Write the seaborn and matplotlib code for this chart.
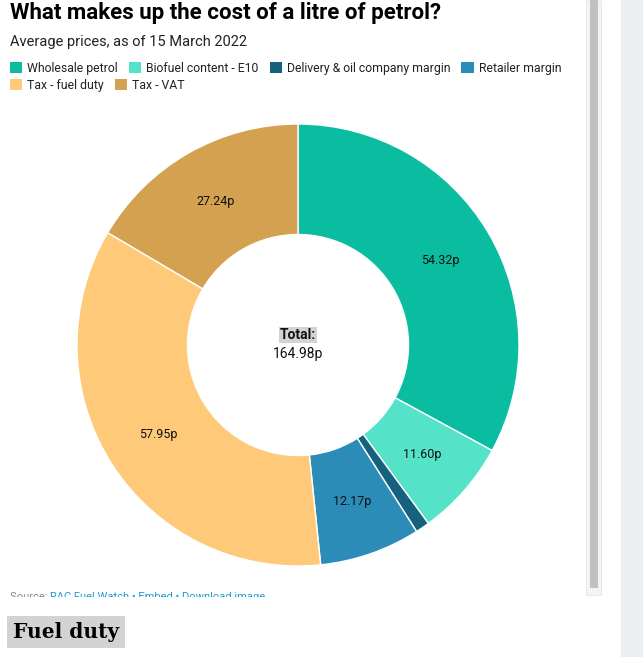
import numpy as np
import pandas as pd
import matplotlib
matplotlib.use("Agg")
import matplotlib.pyplot as plt
import seaborn as sns
from matplotlib.patches import Patch, Rectangle

# ---------------- data ----------------
categories = ["Wholesale petrol", "Biofuel content - E10",
              "Delivery & oil company margin", "Retailer margin",
              "Tax - fuel duty", "Tax - VAT"]
values = [54.32, 11.60, 1.70, 12.17, 57.95, 27.24]
show_label = [True, True, False, True, True, True]
colors = ["#0abda0", "#54e3c8", "#16617d", "#2b8cb8", "#fec979", "#d3a14f"]
total_label = "164.98p"
title = "What makes up the cost of a litre of petrol?"
subtitle = "Average prices, as of 15 March 2022"
heading = "Fuel duty"

df = pd.DataFrame({"category": categories, "value": values,
                   "show": show_label})

sns.set_theme(style="white")
plt.rcParams["font.family"] = ["Roboto", "DejaVu Sans"]
palette = sns.color_palette(colors)

W, H = 643, 657
fig = plt.figure(figsize=(W / 100, H / 100), dpi=100)
fig.patch.set_facecolor("white")

def fx(x):
    return x / W

def fy(y):
    return 1 - y / H

# right side grey panel and scrollbar
fig.patches.append(Rectangle((fx(621), 0), fx(W - 621), 1, transform=fig.transFigure,
                             facecolor="#ebeff0", edgecolor="none", zorder=0))
fig.patches.append(Rectangle((fx(586), fy(595)), fx(15), 595 / H, transform=fig.transFigure,
                             facecolor="#f4f4f4", edgecolor="#e6e6e6", linewidth=0.6, zorder=1))
fig.patches.append(Rectangle((fx(590), fy(588)), fx(8), 588 / H, transform=fig.transFigure,
                             facecolor="#c1c1c1", edgecolor="none", zorder=2))

# titles
fig.text(fx(10), fy(19), title, fontsize=16, fontweight="bold", color="#000000",
         ha="left", va="baseline")
fig.text(fx(10), fy(46), subtitle, fontsize=10.5, color="#222222",
         ha="left", va="baseline")

# legends
handles = [Patch(facecolor=c, edgecolor="none") for c in palette]
leg_kw = dict(loc="upper left", frameon=False, borderpad=0, borderaxespad=0,
              handlelength=1.0, handleheight=1.0, handletextpad=0.4,
              columnspacing=0.9, fontsize=8.85, labelcolor="#222222")
fig.legend(handles[:4], categories[:4], ncol=4,
           bbox_to_anchor=(fx(10), fy(62)), **leg_kw)
fig.legend(handles[4:], categories[4:], ncol=2,
           bbox_to_anchor=(fx(10), fy(79)), **leg_kw)

# donut
ax = fig.add_axes([fx(77), fy(566), 442 / W, 442 / H])
wedges, _ = ax.pie(df["value"], colors=palette, startangle=90, counterclock=False,
                   radius=1.0,
                   wedgeprops=dict(width=0.5, edgecolor="white", linewidth=1.0))
ax.set_xlim(-1, 1)
ax.set_ylim(-1, 1)
ax.set_aspect("equal")
ax.axis("off")

for w, v, s in zip(wedges, df["value"], df["show"]):
    if not s:
        continue
    ang = np.deg2rad((w.theta1 + w.theta2) / 2)
    r = 0.75
    ax.text(r * np.cos(ang), r * np.sin(ang), f"{v:.2f}p", ha="center", va="center",
            fontsize=9, color="#111111")

ax.text(0, 0.045, "Total:", ha="center", va="center", fontsize=10, fontweight="bold",
        color="#111111", bbox=dict(facecolor="#d3d3d3", edgecolor="none", pad=0.8))
ax.text(0, -0.04, total_label, ha="center", va="center", fontsize=10, color="#111111")

# source line (clipped by iframe bottom)
src_y = fy(600)
t1 = fig.text(fx(10), src_y, "Source: ", fontsize=8, color="#888888", ha="left", va="baseline")
fig.canvas.draw()
r = fig.canvas.get_renderer()
bb = t1.get_window_extent(r)
fig.text(bb.x1 / W, src_y, "RAC Fuel Watch \u2022 Embed \u2022 Download image", fontsize=8,
         color="#1d9ad6", ha="left", va="baseline")
fig.patches.append(Rectangle((0, fy(612)), fx(621), 15 / H, transform=fig.transFigure,
                             facecolor="white", edgecolor="none", zorder=10))

# heading
fig.text(fx(13), fy(638), heading, fontsize=14.5, fontweight="bold",
         family=["DejaVu Serif"], color="#000000", ha="left", va="baseline",
         bbox=dict(facecolor="#d3d3d3", edgecolor="none", pad=4.5))

fig.savefig("out.png", dpi=100, facecolor="white")
